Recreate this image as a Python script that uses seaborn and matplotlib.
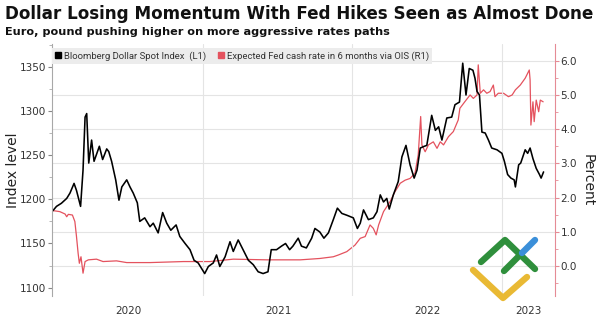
import numpy as np
import pandas as pd
import matplotlib
matplotlib.use("Agg")
import matplotlib.pyplot as plt
import matplotlib.dates as mdates
from matplotlib.ticker import MultipleLocator, FixedLocator, FixedFormatter
from matplotlib.lines import Line2D
import seaborn as sns

# ---------------- data ----------------
dollar_dates = [
    "2019-12-29", "2020-01-07", "2020-01-19", "2020-02-01", "2020-02-09", "2020-02-19",
    "2020-02-25", "2020-03-06", "2020-03-12", "2020-03-17", "2020-03-21", "2020-03-26",
    "2020-04-02", "2020-04-08", "2020-04-21", "2020-04-29", "2020-05-09", "2020-05-14",
    "2020-05-21", "2020-05-31", "2020-06-08", "2020-06-15", "2020-06-27", "2020-07-05",
    "2020-07-13", "2020-07-23", "2020-07-29", "2020-08-10", "2020-08-23", "2020-08-31",
    "2020-09-12", "2020-09-23", "2020-10-03", "2020-10-13", "2020-10-26", "2020-11-04",
    "2020-11-17", "2020-11-29", "2020-12-09", "2020-12-19", "2021-01-04", "2021-01-13",
    "2021-01-25", "2021-02-02", "2021-02-10", "2021-02-23", "2021-03-07", "2021-03-15",
    "2021-03-27", "2021-04-08", "2021-04-21", "2021-05-03", "2021-05-15", "2021-05-27",
    "2021-06-08", "2021-06-16", "2021-06-29", "2021-07-11", "2021-07-21", "2021-07-31",
    "2021-08-08", "2021-08-21", "2021-08-29", "2021-09-10", "2021-09-23", "2021-10-01",
    "2021-10-13", "2021-10-23", "2021-11-03", "2021-11-15", "2021-11-25", "2021-12-06",
    "2021-12-18", "2022-01-03", "2022-01-13", "2022-01-20", "2022-01-28", "2022-02-09",
    "2022-02-21", "2022-03-02", "2022-03-10", "2022-03-18", "2022-03-26", "2022-04-01",
    "2022-04-11", "2022-04-23", "2022-05-02", "2022-05-12", "2022-05-22", "2022-06-01",
    "2022-06-08", "2022-06-16", "2022-06-26", "2022-07-02", "2022-07-14", "2022-07-23",
    "2022-07-31", "2022-08-08", "2022-08-20", "2022-09-01", "2022-09-09", "2022-09-20",
    "2022-09-28", "2022-10-06", "2022-10-14", "2022-10-23", "2022-10-28", "2022-11-02",
    "2022-11-08", "2022-11-14", "2022-11-22", "2022-11-30", "2022-12-08", "2022-12-21",
    "2023-01-02", "2023-01-08", "2023-01-16", "2023-01-24", "2023-02-01", "2023-02-04",
    "2023-02-12", "2023-02-17", "2023-02-28", "2023-03-06", "2023-03-12", "2023-03-19",
    "2023-03-27", "2023-04-04", "2023-04-08", "2023-04-14",
]
dollar_index = [
    1187, 1192, 1195.5, 1201, 1207, 1218,
    1210, 1192, 1233, 1293, 1297, 1241,
    1267, 1243, 1260, 1245, 1257, 1254,
    1243, 1222, 1199, 1214, 1222, 1214,
    1207, 1196, 1175, 1179, 1169, 1173,
    1162, 1185, 1173, 1165, 1171, 1158,
    1150, 1143, 1131, 1128, 1116, 1124,
    1128, 1137, 1124, 1135, 1152, 1141,
    1154, 1143, 1131, 1126, 1118, 1116,
    1118, 1143, 1143, 1147, 1150, 1143,
    1147, 1156, 1147, 1145, 1156, 1167,
    1163, 1156, 1162, 1177, 1190, 1184,
    1182, 1179, 1167, 1173, 1188, 1177,
    1179, 1186, 1205, 1197, 1201, 1189,
    1205, 1220, 1248, 1261, 1239, 1224,
    1233, 1258, 1260, 1261, 1295, 1278,
    1282, 1267, 1292, 1293, 1307, 1310,
    1354, 1318, 1348, 1346, 1337, 1322,
    1318, 1276, 1275, 1267, 1258, 1256,
    1252, 1243, 1228, 1224, 1222, 1214,
    1239, 1241, 1256, 1252, 1258, 1246,
    1235, 1228, 1224, 1231,
]

fed_dates = [
    "2019-12-29", "2020-01-15", "2020-01-28", "2020-02-01", "2020-02-05", "2020-02-15",
    "2020-02-21", "2020-02-25", "2020-02-29", "2020-03-03", "2020-03-07", "2020-03-12",
    "2020-03-17", "2020-03-25", "2020-04-14", "2020-04-30", "2020-06-02", "2020-06-27",
    "2020-08-23", "2020-11-13", "2021-01-17", "2021-03-15", "2021-06-05", "2021-08-26",
    "2021-10-13", "2021-11-15", "2021-11-27", "2021-12-18", "2022-01-07", "2022-01-20",
    "2022-02-01", "2022-02-13", "2022-02-21", "2022-02-28", "2022-03-06", "2022-03-18",
    "2022-04-03", "2022-04-15", "2022-04-28", "2022-05-10", "2022-05-22", "2022-06-03",
    "2022-06-11", "2022-06-17", "2022-06-20", "2022-06-28", "2022-07-06", "2022-07-18",
    "2022-07-27", "2022-08-04", "2022-08-12", "2022-08-24", "2022-09-05", "2022-09-17",
    "2022-09-21", "2022-10-03", "2022-10-16", "2022-10-24", "2022-11-02", "2022-11-05",
    "2022-11-10", "2022-11-18", "2022-11-26", "2022-12-04", "2022-12-12", "2022-12-16",
    "2022-12-24", "2023-01-06", "2023-01-18", "2023-01-27", "2023-02-04", "2023-02-16",
    "2023-02-28", "2023-03-10", "2023-03-12", "2023-03-14", "2023-03-19", "2023-03-22",
    "2023-03-27", "2023-04-02", "2023-04-06", "2023-04-13",
]
fed_rate = [
    1.62, 1.59, 1.52, 1.44, 1.51, 1.49,
    1.30, 0.86, 0.37, 0.08, 0.27, -0.21,
    0.13, 0.18, 0.20, 0.13, 0.15, 0.10,
    0.10, 0.13, 0.13, 0.20, 0.18, 0.18,
    0.22, 0.27, 0.32, 0.42, 0.61, 0.81,
    0.86, 1.20, 1.10, 0.91, 1.20, 1.59,
    1.88, 2.17, 2.42, 2.51, 2.56, 2.71,
    3.25, 4.37, 3.54, 3.34, 3.54, 3.63,
    3.44, 3.63, 3.54, 3.78, 3.93, 4.27,
    4.61, 4.80, 5.00, 4.90, 5.00, 5.88,
    5.05, 5.15, 5.05, 5.10, 5.29, 4.95,
    5.05, 5.05, 4.95, 5.00, 5.15, 5.29,
    5.49, 5.73, 5.44, 4.12, 4.80, 4.22,
    4.85, 4.51, 4.85, 4.80,
]

year_labels = ["2020", "2021", "2022", "2023"]
left_ticks = [1100, 1150, 1200, 1250, 1300, 1350]
right_ticks = [0.0, 1.0, 2.0, 3.0, 4.0, 5.0, 6.0]

title = "Dollar Losing Momentum With Fed Hikes Seen as Almost Done"
subtitle = "Euro, pound pushing higher on more aggressive rates paths"
legend_labels = ["Bloomberg Dollar Spot Index  (L1)",
                 "Expected Fed cash rate in 6 months via OIS (R1)"]

df_dollar = pd.DataFrame({"date": pd.to_datetime(dollar_dates), "index": dollar_index})
df_fed = pd.DataFrame({"date": pd.to_datetime(fed_dates), "rate": fed_rate})

# ---------------- styling ----------------
sns.set_style("white")
plt.rcParams["font.family"] = ["DejaVu Sans"]

RED = "#e4525e"
RED_AX = "#e58b95"
GRID = "#e4e4e4"
W, H = 599, 323

fig = plt.figure(figsize=(W / 100, H / 100), dpi=100)
ax = fig.add_axes([52 / W, 1 - 296 / H, (555 - 52) / W, (296 - 44) / H])
ax2 = ax.twinx()

sns.lineplot(data=df_fed, x="date", y="rate", ax=ax2, color=RED, lw=0.9,
             estimator=None, sort=True)
sns.lineplot(data=df_dollar, x="date", y="index", ax=ax, color="black", lw=1.15,
             estimator=None, sort=True)

ax.set_zorder(ax2.get_zorder() + 1)
ax.patch.set_visible(False)

# x axis
xmin = pd.Timestamp("2019-12-27")
xmax = pd.Timestamp("2023-05-12")
ax.set_xlim(xmin, xmax)
year_starts = [pd.Timestamp(f"{y}-01-01") for y in (2021, 2022, 2023)]
label_pos = []
for y in year_labels:
    a = max(pd.Timestamp(f"{y}-01-01"), xmin)
    b = min(pd.Timestamp(f"{int(y) + 1}-01-01"), xmax)
    label_pos.append(a + (b - a) / 2)
ax.xaxis.set_major_locator(FixedLocator(mdates.date2num(year_starts)))
ax.xaxis.set_major_formatter(FixedFormatter([""] * len(year_starts)))
ax.xaxis.set_minor_locator(FixedLocator(mdates.date2num(label_pos)))
ax.xaxis.set_minor_formatter(FixedFormatter(year_labels))
ax.tick_params(axis="x", which="both", length=0, pad=7, labelsize=7.5, labelcolor="#333333")
ax.grid(axis="x", which="major", color=GRID, lw=0.8)
ax.grid(axis="y", visible=False)

# left axis
ax.set_ylim(1090.6, 1375.7)
ax.set_yticks(left_ticks)
ax.yaxis.set_minor_locator(MultipleLocator(25))
ax.tick_params(axis="y", which="major", length=3, width=0.8, color="#888888",
               labelsize=7.5, labelcolor="#333333", pad=1, left=True)
ax.tick_params(axis="y", which="minor", length=2, width=0.6, color="#aaaaaa", left=True)
ax.set_xlabel("")
ax.set_ylabel("Index level", fontsize=10, color="#222222", va="center")
ax.yaxis.set_label_coords((13 - 52) / 503, 0.5)

# right axis
ax2.set_ylim(-0.877, 6.49)
ax2.set_yticks(right_ticks)
ax2.set_yticklabels([f"{v:.1f}" for v in right_ticks])
ax2.yaxis.set_minor_locator(MultipleLocator(0.5))
ax2.tick_params(axis="y", which="major", length=3, width=0.8, color=RED_AX,
                labelsize=7.5, labelcolor="#333333", pad=1, right=True)
ax2.tick_params(axis="y", which="minor", length=2, width=0.6, color=RED_AX, right=True)
ax2.grid(axis="y", which="major", color=GRID, lw=0.8)
ax2.set_ylabel("Percent", fontsize=10, color="#222222", rotation=270, va="center")
ax2.yaxis.set_label_coords((588 - 52) / 503, 0.46)

for s in ("top", "bottom", "right"):
    ax.spines[s].set_visible(False)
ax.spines["left"].set_color("#a8a8a8")
ax.spines["left"].set_linewidth(0.8)
for s in ("top", "bottom", "left"):
    ax2.spines[s].set_visible(False)
ax2.spines["right"].set_color(RED_AX)
ax2.spines["right"].set_linewidth(0.8)

# legend
handles = [Line2D([], [], marker="s", ls="", color="black", markersize=4),
           Line2D([], [], marker="s", ls="", color=RED, markersize=4)]
leg = ax.legend(handles, legend_labels, loc="upper left",
                bbox_to_anchor=(0.0, 1 - 4 / 252), ncol=2, frameon=True,
                facecolor="#ececec", edgecolor="none", fancybox=False, framealpha=1,
                prop={"family": ["Roboto", "DejaVu Sans"], "size": 6.8},
                handlelength=0.6, handletextpad=0.35, columnspacing=1.2,
                borderpad=0.35, borderaxespad=0)
for t in leg.get_texts():
    t.set_color("#333333")
if ax2.get_legend() is not None:
    ax2.get_legend().remove()

# titles
t1 = fig.text(5 / W, 1 - 14 / H, title, fontsize=12.5, fontweight="bold",
              ha="left", va="center", color="#111111")
t2 = fig.text(5 / W, 1 - 32 / H, subtitle, fontsize=8.5, fontweight="bold",
              ha="left", va="center", color="#111111")
renderer = fig.canvas.get_renderer()
for t, target in ((t1, 589), (t2, 380)):
    w = t.get_window_extent(renderer).width
    t.set_fontsize(t.get_fontsize() * target / w)

# watermark logo (decorative)
def seg(pts, color):
    xs = [p[0] / W for p in pts]
    ys = [1 - p[1] / H for p in pts]
    fig.add_artist(Line2D(xs, ys, transform=fig.transFigure, color=color, lw=4.6,
                          solid_capstyle="round", solid_joinstyle="round", zorder=10))

seg([(473, 270), (503, 298), (527, 277)], "#e9b934")
seg([(481, 262), (505, 240), (535, 269)], "#2f8f3c")
seg([(504, 271), (522, 253)], "#2f8f3c")
seg([(522, 253), (535, 240)], "#3b8fd9")

fig.savefig("out.png", dpi=100)
